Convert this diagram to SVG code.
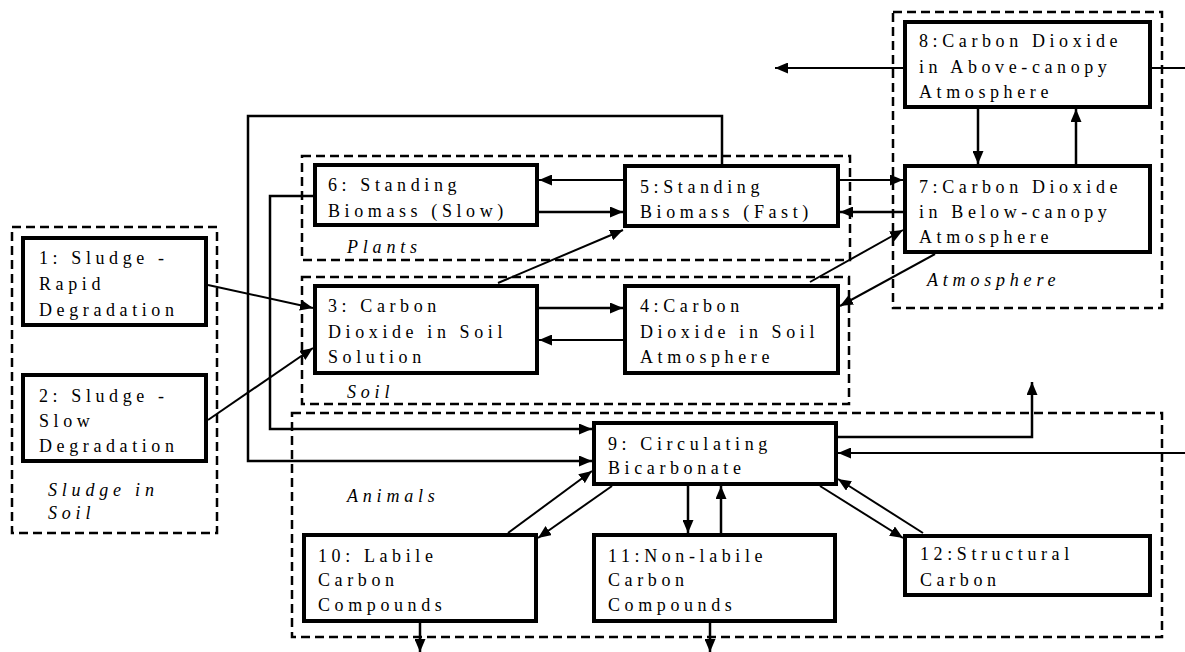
<svg xmlns="http://www.w3.org/2000/svg" width="1185" height="652" viewBox="0 0 1185 652">
<style>
.box{fill:#fff;stroke:#000;stroke-width:4}
.grp{fill:none;stroke:#000;stroke-width:2.5;stroke-dasharray:9 5}
.t{font-family:"Liberation Serif","Times New Roman",serif;font-size:18px;letter-spacing:4.6px;fill:#000}
.g{font-family:"Liberation Serif","Times New Roman",serif;font-size:18px;font-style:italic;letter-spacing:4.8px;fill:#000}
.c{fill:none;stroke:#000;stroke-width:2.5}
.d{fill:none;stroke:#000;stroke-width:2}
.a{marker-end:url(#ah)}
</style>
<defs>
<marker id="ah" viewBox="0 0 13 11" markerWidth="13" markerHeight="11" refX="13" refY="5.5" orient="auto" markerUnits="userSpaceOnUse">
<path d="M0,0 L13,5.5 L0,11 Z" fill="#000"/>
</marker>
</defs>
<rect width="1185" height="652" fill="#fff"/>

<g id="groups">
<rect id="grp-sludge" class="grp" x="12" y="227" width="205" height="306"/>
<rect id="grp-plants" class="grp" x="302" y="156" width="548" height="104"/>
<rect id="grp-soil" class="grp" x="302" y="277" width="547" height="127"/>
<rect id="grp-animals" class="grp" x="292" y="413" width="870" height="224"/>
<rect id="grp-atmosphere" class="grp" x="893" y="12" width="269" height="296"/>
<text class="g" x="48" y="496">Sludge in</text>
<text class="g" x="48" y="519">Soil</text>
<text class="g" x="347" y="253">Plants</text>
<text class="g" x="347" y="398">Soil</text>
<text class="g" x="347" y="502">Animals</text>
<text class="g" x="927" y="286">Atmosphere</text>
</g>

<g id="connectors">
<path class="d a" d="M208,285 L313,308"/>
<path class="d a" d="M208,420 L313,348"/>
<path class="d a" d="M498,283 L623,230"/>
<path class="c a" d="M539,308 L623,308"/>
<path class="d a" d="M623,340 L539,340"/>
<path class="c a" d="M539,212 L623,212"/>
<path class="d a" d="M623,180 L539,180"/>
<path class="d a" d="M840,180 L903,180"/>
<path class="c a" d="M903,212 L840,212"/>
<path class="d a" d="M810,282 L903,230"/>
<path class="d a" d="M935,254 L840,306"/>
<path class="c a" d="M978,109 L978,164"/>
<path class="c a" d="M1076,164 L1076,109"/>
<path class="d a" d="M903,68 L775,68"/>
<path class="d" d="M1152,68 L1185,68"/>
<path class="c a" d="M722,164 L722,116 L248,116 L248,461 L592,461"/>
<path class="c a" d="M313,196 L270,196 L270,429 L592,429"/>
<path class="c a" d="M838,437 L1032,437 L1032,382"/>
<path class="d a" d="M1185,453 L838,453"/>
<path class="d a" d="M508,533 L592,471"/>
<path class="d a" d="M612,486 L538,538"/>
<path class="c a" d="M688,486 L688,533"/>
<path class="c a" d="M721,533 L721,486"/>
<path class="d a" d="M820,486 L903,538"/>
<path class="d a" d="M923,533 L838,479"/>
<path class="c a" d="M420,623 L420,652"/>
<path class="c a" d="M710,623 L710,652"/>
</g>

<g id="n1"><rect class="box" x="23" y="238" width="183" height="87"/>
<text class="t" x="39" y="264">1: Sludge -</text><text class="t" x="39" y="290">Rapid</text><text class="t" x="39" y="316">Degradation</text></g>
<g id="n2"><rect class="box" x="23" y="375" width="183" height="86"/>
<text class="t" x="39" y="402">2: Sludge -</text><text class="t" x="39" y="427">Slow</text><text class="t" x="39" y="452">Degradation</text></g>
<g id="n3"><rect class="box" x="315" y="286" width="222" height="87"/>
<text class="t" x="328" y="312">3: Carbon</text><text class="t" x="328" y="338">Dioxide in Soil</text><text class="t" x="328" y="363">Solution</text></g>
<g id="n4"><rect class="box" x="625" y="286" width="213" height="87"/>
<text class="t" x="640" y="312">4:Carbon</text><text class="t" x="640" y="338">Dioxide in Soil</text><text class="t" x="640" y="363">Atmosphere</text></g>
<g id="n5"><rect class="box" x="625" y="166" width="213" height="60"/>
<text class="t" x="640" y="193">5:Standing</text><text class="t" x="640" y="218">Biomass (Fast)</text></g>
<g id="n6"><rect class="box" x="315" y="165" width="222" height="60"/>
<text class="t" x="328" y="191">6: Standing</text><text class="t" x="328" y="217">Biomass (Slow)</text></g>
<g id="n7"><rect class="box" x="905" y="166" width="245" height="86"/>
<text class="t" x="919" y="193">7:Carbon Dioxide</text><text class="t" x="919" y="218">in Below-canopy</text><text class="t" x="919" y="243">Atmosphere</text></g>
<g id="n8"><rect class="box" x="905" y="22" width="245" height="85"/>
<text class="t" x="919" y="47">8:Carbon Dioxide</text><text class="t" x="919" y="73">in Above-canopy</text><text class="t" x="919" y="98">Atmosphere</text></g>
<g id="n9"><rect class="box" x="594" y="423" width="242" height="61"/>
<text class="t" x="608" y="450">9: Circulating</text><text class="t" x="608" y="474">Bicarbonate</text></g>
<g id="n10"><rect class="box" x="304" y="535" width="232" height="86"/>
<text class="t" x="318" y="562">10: Labile</text><text class="t" x="318" y="586">Carbon</text><text class="t" x="318" y="611">Compounds</text></g>
<g id="n11"><rect class="box" x="594" y="535" width="241" height="86"/>
<text class="t" x="608" y="562">11:Non-labile</text><text class="t" x="608" y="586">Carbon</text><text class="t" x="608" y="611">Compounds</text></g>
<g id="n12"><rect class="box" x="905" y="536" width="245" height="59"/>
<text class="t" x="920" y="560">12:Structural</text><text class="t" x="920" y="586">Carbon</text></g>
</svg>
